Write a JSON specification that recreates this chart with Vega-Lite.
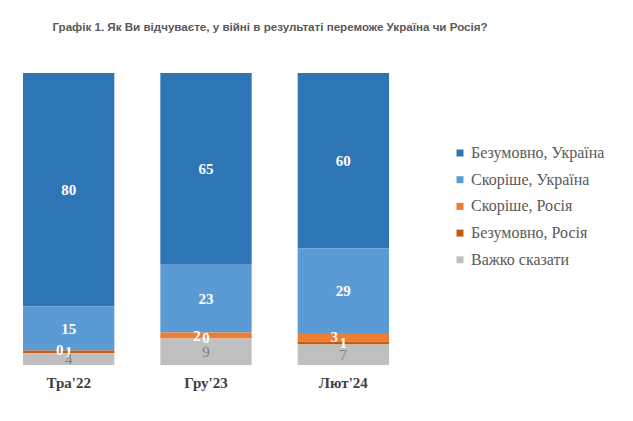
{
  "$schema": "https://vega.github.io/schema/vega-lite/v6.json",
  "autosize": "none",
  "width": 412,
  "height": 292,
  "padding": {"left": 0, "top": 73, "right": 221, "bottom": 56},
  "background": "white",
  "title": {
    "text": "Графік 1. Як Ви відчуваєте, у війні в результаті переможе Україна чи Росія?",
    "font": "Liberation Sans",
    "fontSize": 11.6,
    "fontWeight": "bold",
    "color": "#595959",
    "anchor": "middle",
    "dx": 64,
    "offset": 39
  },
  "config": {"view": {"stroke": null}},
  "data": {
    "values": [
      {"period": "Тра'22", "g": "Безумовно, Україна", "k": 4, "v": 80},
      {"period": "Тра'22", "g": "Скоріше, Україна", "k": 3, "v": 15},
      {"period": "Тра'22", "g": "Скоріше, Росія", "k": 2, "v": 0},
      {"period": "Тра'22", "g": "Безумовно, Росія", "k": 1, "v": 1},
      {"period": "Тра'22", "g": "Важко сказати", "k": 0, "v": 4},
      {"period": "Гру'23", "g": "Безумовно, Україна", "k": 4, "v": 65},
      {"period": "Гру'23", "g": "Скоріше, Україна", "k": 3, "v": 23},
      {"period": "Гру'23", "g": "Скоріше, Росія", "k": 2, "v": 2},
      {"period": "Гру'23", "g": "Безумовно, Росія", "k": 1, "v": 0},
      {"period": "Гру'23", "g": "Важко сказати", "k": 0, "v": 9},
      {"period": "Лют'24", "g": "Безумовно, Україна", "k": 4, "v": 60},
      {"period": "Лют'24", "g": "Скоріше, Україна", "k": 3, "v": 29},
      {"period": "Лют'24", "g": "Скоріше, Росія", "k": 2, "v": 3},
      {"period": "Лют'24", "g": "Безумовно, Росія", "k": 1, "v": 1},
      {"period": "Лют'24", "g": "Важко сказати", "k": 0, "v": 7}
    ]
  },
  "encoding": {
    "x": {
      "field": "period",
      "type": "nominal",
      "sort": null,
      "scale": {"paddingInner": 0.335, "paddingOuter": 0.1675},
      "axis": {
        "title": null,
        "domain": false,
        "ticks": false,
        "labelAngle": 0,
        "labelPadding": 10,
        "labelFont": "Liberation Serif, Times New Roman, serif",
        "labelFontSize": 15,
        "labelFontWeight": "bold",
        "labelColor": "#404040"
      }
    },
    "y": {
      "field": "v",
      "type": "quantitative",
      "stack": "normalize",
      "axis": null
    },
    "order": {"field": "k", "type": "quantitative"}
  },
  "layer": [
    {
      "mark": {"type": "bar"},
      "encoding": {
        "color": {
          "field": "g",
          "type": "nominal",
          "scale": {
            "domain": ["Безумовно, Україна", "Скоріше, Україна", "Скоріше, Росія", "Безумовно, Росія", "Важко сказати"],
            "range": ["#2E75B6", "#5B9BD5", "#ED7D31", "#C55A11", "#BFBFBF"]
          },
          "legend": {
            "title": null,
            "orient": "none",
            "legendX": 452,
            "legendY": 72,
            "symbolType": "square",
            "symbolSize": 49,
            "symbolStrokeWidth": 0,
            "labelFont": "Liberation Serif, Times New Roman, serif",
            "labelFontSize": 16,
            "labelColor": "#595959",
            "labelOffset": 3,
            "rowPadding": 10.7
          }
        }
      }
    },
    {
      "mark": {"type": "text", "font": "Liberation Serif", "fontSize": 15, "fontWeight": "bold", "baseline": "middle", "color": "white"},
      "encoding": {
        "y": {"field": "v", "type": "quantitative", "stack": "normalize", "bandPosition": 0.5},
        "text": {
          "condition": {"test": "datum.g !== 'Скоріше, Росія' && datum.g !== 'Важко сказати'", "field": "v", "type": "quantitative"},
          "value": ""
        }
      }
    },
    {
      "mark": {"type": "text", "font": "Liberation Serif", "fontSize": 15, "fontWeight": "bold", "baseline": "middle", "color": "white", "dx": -9},
      "encoding": {
        "y": {"field": "v", "type": "quantitative", "stack": "normalize", "bandPosition": 0.5},
        "text": {
          "condition": {"test": "datum.g === 'Скоріше, Росія'", "field": "v", "type": "quantitative"},
          "value": ""
        }
      }
    },
    {
      "mark": {"type": "text", "font": "Liberation Serif", "fontSize": 15, "baseline": "middle", "color": "#7F7F7F"},
      "encoding": {
        "y": {"field": "v", "type": "quantitative", "stack": "normalize", "bandPosition": 0.5},
        "text": {
          "condition": {"test": "datum.g === 'Важко сказати'", "field": "v", "type": "quantitative"},
          "value": ""
        }
      }
    }
  ]
}
